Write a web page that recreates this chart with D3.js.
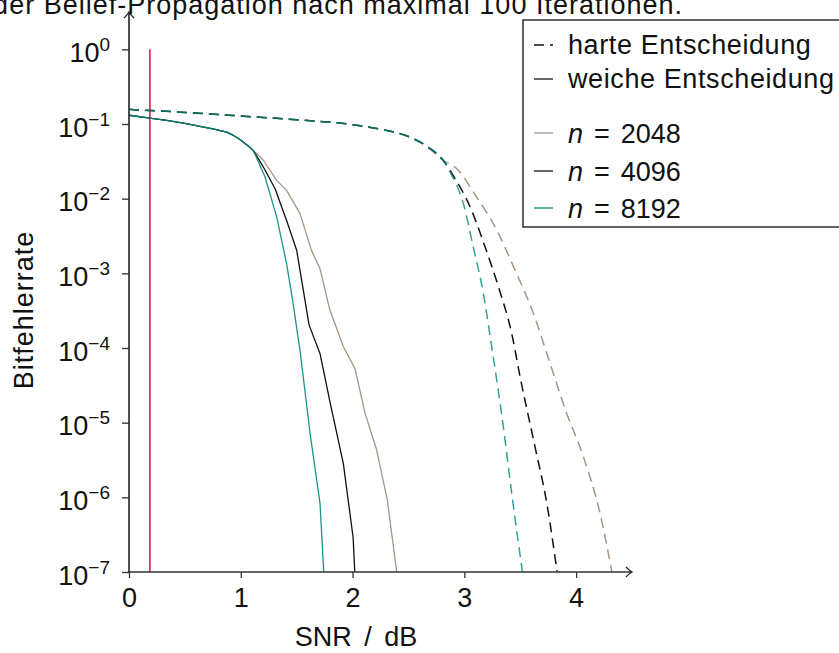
<!DOCTYPE html>
<html>
<head>
<meta charset="utf-8">
<script src="https://cdn.jsdelivr.net/npm/d3@7/dist/d3.min.js"></script>
<style>
  body { margin: 0; background: #fff; }
  svg { display: block; font-family: "Liberation Sans", Arial, sans-serif; }
</style>
</head>
<body>
<div id="chart"></div>
<script>
// SNR in dB, BER values
const shannonLimit = 0.187

// harte Entscheidung: shared part of all three codes
const snrHardCommon = [0, 0.5, 1.0, 1.5, 2.0, 2.25, 2.47, 2.65, 2.81]
const berHardCommon = [0.157, 0.143, 0.128, 0.114, 0.098, 0.085, 0.0706, 0.052, 0.0327]

const snrHard2048 = [2.933, 3.11, 3.29, 3.454, 3.618, 3.767, 3.916, 4.065, 4.215, 4.32]
const berHard2048 = [0.0252, 0.0105, 3.8e-3, 1.1e-3, 2.9e-4, 6.2e-5, 1.33e-5, 3.5e-6, 6.0e-7, 1e-7]
const snrHard4096 = [2.917, 3.051, 3.186, 3.305, 3.424, 3.499, 3.633, 3.738, 3.83]
const berHard4096 = [0.0186, 7.8e-3, 2.25e-3, 6.6e-4, 1.56e-4, 4.1e-5, 4.7e-6, 8.3e-7, 1e-7]
const snrHard8192 = [2.872, 2.991, 3.08, 3.17, 3.245, 3.349, 3.424, 3.52]
const berHard8192 = [0.0228, 8.6e-3, 2.25e-3, 5.4e-4, 1.04e-4, 8.8e-6, 1.13e-6, 1e-7]

// weiche Entscheidung
const snrSoftCommon = [0, 0.187, 0.337, 0.5, 0.635, 0.75, 0.874, 0.93, 0.98, 1.023, 1.07, 1.113]
const berSoftCommon = [0.131, 0.12, 0.112, 0.102, 0.093, 0.086, 0.078, 0.0708, 0.064, 0.057, 0.0505, 0.044]

const snrSoft2048 = [1.202, 1.321, 1.41, 1.53, 1.634, 1.709, 1.798, 1.918, 2.022, 2.112, 2.216, 2.311, 2.395]
const berSoft2048 = [0.0327, 0.0176, 0.0129, 6.3e-3, 2.0e-3, 1.15e-3, 3.2e-4, 1.04e-4, 5.3e-5, 1.33e-5, 4.3e-6, 9.2e-7, 1e-7]
const snrSoft4096 = [1.202, 1.307, 1.41, 1.5, 1.611, 1.709, 1.798, 1.918, 2.005, 2.02]
const berSoft4096 = [0.0265, 0.0136, 5.1e-3, 2.04e-3, 2.04e-4, 8.4e-5, 1.9e-5, 2.8e-6, 2.9e-7, 1e-7]
const snrSoft8192 = [1.217, 1.321, 1.41, 1.463, 1.53, 1.62, 1.709, 1.742]
const berSoft8192 = [0.0195, 5.7e-3, 1.35e-3, 4.4e-4, 9.3e-5, 7.2e-6, 8.3e-7, 1e-7]

const codeLengths = ['2048', '4096', '8192']
const codeColors = ['#a39684', '#111111', '#00897e']
const xTicks = [0, 1, 2, 3, 4]
const yExponents = [0, -1, -2, -3, -4, -5, -6, -7]

const width = 839
const height = 653

const svg = d3.select('#chart').append('svg')
    .attr('width', width)
    .attr('height', height)

const x = d3.scaleLinear().domain([0, 4.5]).range([129, 632])
const y = d3.scaleLog().domain([1e-7, Math.pow(10, 0.5)]).range([572, 12])

function zip(a, b) {
    return a.map((v, i) => [v, b[i]])
}

const series = [
    {hard: zip(snrHardCommon.concat(snrHard2048), berHardCommon.concat(berHard2048)),
     soft: zip(snrSoftCommon.concat(snrSoft2048), berSoftCommon.concat(berSoft2048))},
    {hard: zip(snrHardCommon.concat(snrHard4096), berHardCommon.concat(berHard4096)),
     soft: zip(snrSoftCommon.concat(snrSoft4096), berSoftCommon.concat(berSoft4096))},
    {hard: zip(snrHardCommon.concat(snrHard8192), berHardCommon.concat(berHard8192)),
     soft: zip(snrSoftCommon.concat(snrSoft8192), berSoftCommon.concat(berSoft8192))}
]

// title, cut off at the top like the original
svg.append('text')
    .attr('x', 683)
    .attr('y', 14)
    .attr('text-anchor', 'end')
    .style('font-size', '27px')
    .style('letter-spacing', '1px')
    .attr('fill', '#111')
    .text('Bitfehlerrate bei Decodierung mit der Belief-Propagation nach maximal 100 Iterationen.')

// arrow head used for both axes
svg.append('defs').append('marker')
    .attr('id', 'arrow')
    .attr('viewBox', '-8 -6 10 12')
    .attr('refX', 0).attr('refY', 0)
    .attr('markerWidth', 10).attr('markerHeight', 12)
    .attr('markerUnits', 'userSpaceOnUse')
    .attr('orient', 'auto')
    .append('path')
    .attr('d', 'M-6,-5 Q-2,-1 0,0 Q-2,1 -6,5')
    .attr('fill', 'none')
    .attr('stroke', '#222')
    .attr('stroke-width', 1.3)

const line = d3.line()
    .x(d => x(d[0]))
    .y(d => y(d[1]))

const smooth = d3.line()
    .curve(d3.curveMonotoneX)
    .x(d => x(d[0]))
    .y(d => y(d[1]))

// Shannon-Grenze
svg.append('line')
    .attr('x1', x(shannonLimit)).attr('x2', x(shannonLimit))
    .attr('y1', y(1)).attr('y2', y(1e-7))
    .attr('stroke', '#c4173f')
    .attr('stroke-width', 1.5)

// soft decision curves
series.forEach(function (s, i) {
    svg.append('path')
        .attr('d', line(s.soft))
        .attr('fill', 'none')
        .attr('stroke', codeColors[i])
        .attr('stroke-width', 1.3)
        .attr('stroke-linejoin', 'round')
        .attr('stroke-opacity', i === 2 ? 0.9 : 1)
})

// hard decision curves
series.forEach(function (s, i) {
    svg.append('path')
        .attr('d', smooth(s.hard))
        .attr('fill', 'none')
        .attr('stroke', codeColors[i])
        .attr('stroke-width', 1.5)
        .attr('stroke-dasharray', '10,6')
        .attr('stroke-opacity', i === 2 ? 0.8 : 1)
})

// x axis
const xAxis = svg.append('g')
    .attr('transform', `translate(0,${y(1e-7)})`)
    .call(d3.axisBottom(x).tickValues(xTicks).tickSize(6).tickPadding(10).tickFormat(d3.format('d')))
xAxis.select('.domain').remove()
xAxis.selectAll('line').attr('stroke', '#333').attr('stroke-width', 1.3)
xAxis.selectAll('text')
    .attr('fill', '#111')
    .style('font-size', '27px')
    .style('font-family', '"Liberation Sans", Arial, sans-serif')

svg.append('line')
    .attr('x1', x(0) - 1).attr('x2', x(4.5))
    .attr('y1', y(1e-7)).attr('y2', y(1e-7))
    .attr('stroke', '#333').attr('stroke-width', 1.6)
    .attr('marker-end', 'url(#arrow)')

// y axis
const yAxis = svg.append('g')
    .attr('transform', `translate(${x(0)},0)`)
    .call(d3.axisLeft(y).tickValues(yExponents.map(e => Math.pow(10, e))).tickSize(7).tickPadding(12).tickFormat(() => ''))
yAxis.select('.domain').remove()
yAxis.selectAll('line').attr('stroke', '#333').attr('stroke-width', 1.3)
yAxis.selectAll('.tick text').each(function (d, i) {
    const t = d3.select(this)
        .attr('fill', '#111')
        .attr('dy', '12')
        .style('font-size', '27px')
        .style('font-family', '"Liberation Sans", Arial, sans-serif')
    t.append('tspan').text('10')
    t.append('tspan')
        .attr('dy', '-11')
        .style('font-size', '19px')
        .text(yExponents[i] === 0 ? '0' : '\u2212' + Math.abs(yExponents[i]))
})

svg.append('line')
    .attr('x1', x(0)).attr('x2', x(0))
    .attr('y1', y(1e-7)).attr('y2', y(Math.pow(10, 0.5)))
    .attr('stroke', '#222').attr('stroke-width', 1.6)
    .attr('marker-end', 'url(#arrow)')

// axis labels
svg.append('text')
    .attr('x', 356)
    .attr('y', 646)
    .attr('text-anchor', 'middle')
    .attr('fill', '#111')
    .style('font-size', '27px')
    .style('word-spacing', '5px')
    .text('SNR / dB')

svg.append('text')
    .attr('transform', 'translate(33,310) rotate(-90)')
    .attr('text-anchor', 'middle')
    .attr('fill', '#111')
    .style('font-size', '27px')
    .style('letter-spacing', '1px')
    .text('Bitfehlerrate')

// legend
const legendStyles = ['harte Entscheidung', 'weiche Entscheidung']
const legendDash = ['10,6', null]
const legendY = [45, 79, 133, 171, 208]

const legend = svg.append('g')
legend.append('rect')
    .attr('x', 523).attr('y', 20)
    .attr('width', 330).attr('height', 207)
    .attr('fill', '#fff')
    .attr('stroke', '#222')
    .attr('stroke-width', 1.4)

legendStyles.forEach(function (label, i) {
    legend.append('line')
        .attr('x1', 534).attr('x2', 553)
        .attr('y1', legendY[i]).attr('y2', legendY[i])
        .attr('stroke', '#111').attr('stroke-width', 1.3)
        .attr('stroke-dasharray', legendDash[i])
    legend.append('text')
        .attr('x', 568).attr('y', legendY[i] + 9)
        .attr('fill', '#111')
        .style('font-size', '27px')
        .style('letter-spacing', '0.6px')
        .text(label)
})

codeLengths.forEach(function (n, i) {
    const ly = legendY[i + 2]
    legend.append('line')
        .attr('x1', 534).attr('x2', 553)
        .attr('y1', ly).attr('y2', ly)
        .attr('stroke', codeColors[i]).attr('stroke-width', 1.3)
    const t = legend.append('text')
        .attr('x', 568).attr('y', ly + 10)
        .attr('fill', '#111')
        .style('font-size', '27px')
    t.append('tspan').style('font-style', 'italic').text('n')
    t.append('tspan').attr('dx', 11).text('=')
    t.append('tspan').attr('dx', 11).text(n)
})
</script>
</body>
</html>
